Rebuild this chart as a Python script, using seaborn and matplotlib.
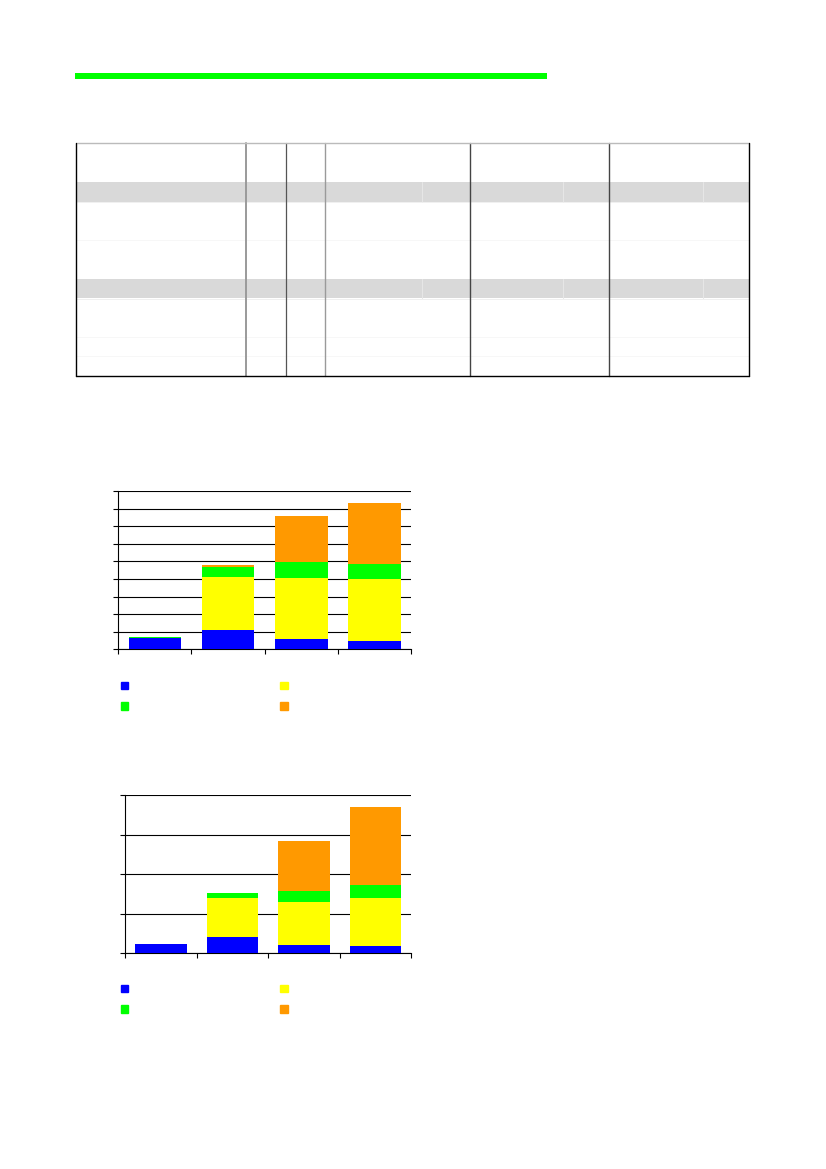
import matplotlib
matplotlib.use("Agg")
import matplotlib.pyplot as plt
from matplotlib.patches import Patch, Rectangle
import numpy as np
import pandas as pd
import seaborn as sns

sns.set_theme(style="white")
plt.rcParams['font.family'] = ['DejaVu Sans']

# ---------------- data ----------------
categories = ["A", "B", "C", "D"]
series_colors = {"blue": "#0000FF", "yellow": "#FFFF00", "green": "#00FF00", "orange": "#FF9900"}

chart1_blue = [6.6, 11.0, 5.7, 4.9]
chart1_yellow = [0.0, 30.1, 35.0, 35.1]
chart1_green = [0.2, 5.9, 9.1, 8.7]
chart1_orange = [0.0, 0.7, 26.1, 34.4]
chart1_yticks = [0, 10, 20, 30, 40, 50, 60, 70, 80, 90]

chart2_blue = [11.0, 19.8, 10.1, 9.3]
chart2_yellow = [0.0, 50.2, 54.0, 60.7]
chart2_green = [0.0, 6.4, 14.4, 16.5]
chart2_orange = [0.0, 0.0, 63.3, 98.7]
chart2_yticks = [0, 50, 100, 150, 200]

W, H = 826, 1169
fig = plt.figure(figsize=(W / 100, H / 100), dpi=100)
fig.patch.set_facecolor("white")

# ---------------- page decorations (green rule + empty table) ----------------
page = fig.add_axes([0, 0, 1, 1], zorder=0)
page.set_xlim(0, W)
page.set_ylim(H, 0)
page.axis("off")

page.add_patch(Rectangle((75, 73), 472, 6, color="#00FF00", lw=0))

tl, tr, tt, tb = 76, 749, 143, 376
gray_rows = [(182.3, 201.7), (279, 298.3)]
for y0, y1 in gray_rows:
    page.add_patch(Rectangle((tl, y0), tr - tl, y1 - y0, color="#D9D9D9", lw=0))
    for sx in [422, 562.5, 702.5]:
        page.plot([sx, sx], [y0, y1], color="#E6E6E6", lw=0.8)
    page.plot([tl, tr], [y1 + 0.5, y1 + 0.5], color="#EEEEEE", lw=0.6)
for fy in [240.3, 337, 356]:
    page.plot([tl, tr], [fy, fy], color="#F6F6F6", lw=0.6)

col_lines = [(245.7, "#9A9A9A", 1.4), (285.7, "#555555", 0.9), (324.7, "#9A9A9A", 1.0),
             (469.7, "#444444", 1.0), (609.3, "#444444", 1.0)]
for cx, c, lw in col_lines:
    page.plot([cx, cx], [tt, tb], color=c, lw=lw)
page.plot([tl, tr], [tt, tt], color="#BBBBBB", lw=1.0)
page.plot([tl, tr], [tb, tb], color="black", lw=1.0)
page.plot([tl, tl], [tt, tb], color="black", lw=1.0)
page.plot([tr, tr], [tt, tb], color="black", lw=1.0)


# ---------------- stacked bar charts ----------------
def px_axes(left, top, right, bottom):
    return fig.add_axes([left / W, 1 - bottom / H, (right - left) / W, (bottom - top) / H], zorder=2)


def stacked(ax, blue, yellow, green, orange, yticks):
    layers = ["orange", "green", "yellow", "blue"]
    stack = np.array([blue, yellow, green, orange], dtype=float)
    cums = {"blue": stack[:1].sum(0), "yellow": stack[:2].sum(0),
            "green": stack[:3].sum(0), "orange": stack[:4].sum(0)}
    for name in layers:
        df = pd.DataFrame({"cat": categories, "val": cums[name]})
        sns.barplot(data=df, x="cat", y="val", color=series_colors[name], width=0.72,
                    saturation=1, ax=ax, linewidth=0, zorder=3)
    ax.set_xlim(-0.5, 3.5)
    ax.set_ylim(yticks[0], yticks[-1])
    ax.set_yticks(yticks)
    ax.set_xticks([-0.5, 0.5, 1.5, 2.5, 3.5])
    ax.set_xticklabels([])
    ax.set_yticklabels([])
    ax.set_xlabel("")
    ax.set_ylabel("")
    ax.grid(axis="y", color="black", lw=0.8, zorder=1)
    ax.set_axisbelow(True)
    for s in ["top", "right"]:
        ax.spines[s].set_visible(False)
    for s in ["left", "bottom"]:
        ax.spines[s].set_color("black")
        ax.spines[s].set_linewidth(0.8)
    ax.tick_params(axis="both", direction="out", length=3.5, width=0.8, color="black",
                   left=True, bottom=True)
    ax.set_facecolor("white")


def legend_below(top_px):
    handles = [Patch(color=series_colors[c]) for c in ["blue", "green", "yellow", "orange"]]
    fig.legend(handles=handles, labels=[" "] * 4, ncol=2, frameon=False,
               loc="upper left", bbox_to_anchor=(119 / W, 1 - top_px / H),
               fontsize=8, handlelength=0.65, handleheight=0.65, handletextpad=0.3,
               columnspacing=13.05, labelspacing=0.97, borderpad=0.2, borderaxespad=0)


ax1 = px_axes(118.3, 491, 411, 649.3)
stacked(ax1, chart1_blue, chart1_yellow, chart1_green, chart1_orange, chart1_yticks)
legend_below(679)

ax2 = px_axes(125.3, 795, 411, 953)
stacked(ax2, chart2_blue, chart2_yellow, chart2_green, chart2_orange, chart2_yticks)
legend_below(982)

fig.savefig("out.png", dpi=100, facecolor="white")
